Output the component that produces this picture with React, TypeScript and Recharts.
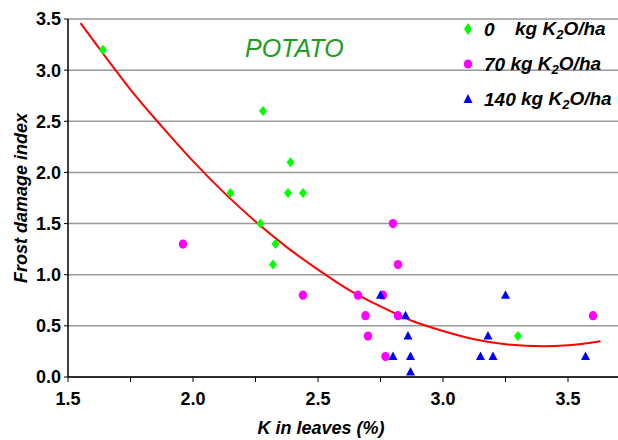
import React from 'react'
import {
  ComposedChart,
  Scatter,
  Line,
  XAxis,
  YAxis,
  CartesianGrid,
  Label,
} from 'recharts'

// K in leaves (%) vs frost damage index, per potash rate
const k0X = [1.64, 2.28, 2.39, 2.15, 2.38, 2.44, 2.27, 2.33, 2.32, 3.3]
const k0Y = [3.2, 2.6, 2.1, 1.8, 1.8, 1.8, 1.5, 1.3, 1.1, 0.4]

const k70X = [1.96, 2.44, 2.66, 2.76, 2.8, 2.82, 2.69, 2.82, 2.7, 2.77, 3.6]
const k70Y = [1.3, 0.8, 0.8, 0.8, 1.5, 1.1, 0.6, 0.6, 0.4, 0.2, 0.6]

const k140X = [2.75, 2.85, 2.86, 2.8, 2.87, 2.87, 3.18, 3.15, 3.2, 3.25, 3.57]
const k140Y = [0.8, 0.6, 0.4, 0.2, 0.2, 0.05, 0.4, 0.2, 0.2, 0.8, 0.2]

// trend line
const trendX = [1.55, 1.65, 1.75, 1.875, 2.0, 2.125, 2.25, 2.375, 2.5, 2.625, 2.75, 2.875, 3.0, 3.125, 3.25, 3.4, 3.5, 3.63]
const trendY = [3.46, 3.13, 2.81, 2.45, 2.11, 1.8, 1.52, 1.27, 1.05, 0.85, 0.69, 0.55, 0.45, 0.37, 0.32, 0.3, 0.31, 0.35]

const xTicks = [1.5, 1.75, 2.0, 2.25, 2.5, 2.75, 3.0, 3.25, 3.5]
const yTicks = [0, 0.5, 1.0, 1.5, 2.0, 2.5, 3.0, 3.5]

const legendRates = ['0', '70', '140']

const zip = (xs: number[], ys: number[]) => xs.map((x, i) => ({ x, y: ys[i] }))

const k0 = zip(k0X, k0Y)
const k70 = zip(k70X, k70Y)
const k140 = zip(k140X, k140Y)
const trend = zip(trendX, trendY)

const FONT = '"Liberation Sans", Arial, sans-serif'

const Diamond = (props: any) => {
  const { cx, cy } = props
  return (
    <polygon
      points={`${cx},${cy - 5} ${cx + 4},${cy} ${cx},${cy + 5} ${cx - 4},${cy}`}
      fill="#00ff00"
    />
  )
}
const Dot = (props: any) => {
  const { cx, cy } = props
  return <ellipse cx={cx} cy={cy} rx={4.2} ry={4.6} fill="#ff00ff" />
}
const Tri = (props: any) => {
  const { cx, cy } = props
  return (
    <polygon
      points={`${cx},${cy - 5} ${cx + 4.5},${cy + 3.5} ${cx - 4.5},${cy + 3.5}`}
      fill="#0000ff"
    />
  )
}

const markers = [
  <svg width="12" height="14" key="d"><polygon points="6,1 10,7 6,13 2,7" fill="#00ff00" /></svg>,
  <svg width="12" height="14" key="c"><ellipse cx="6" cy="7" rx="4.2" ry="4.6" fill="#ff00ff" /></svg>,
  <svg width="12" height="14" key="t"><polygon points="6,2 10.5,11 1.5,11" fill="#0000ff" /></svg>,
]

function App() {
  const axisLabel = {
    fill: '#000',
    fontWeight: 'bold',
    fontStyle: 'italic',
    fontSize: 18,
    fontFamily: FONT,
  }
  const tick = { fill: '#000', fontWeight: 'bold', fontSize: 18, fontFamily: FONT }
  return (
    <div style={{ position: 'absolute', left: 0, top: 0, width: 618, height: 440 }}>
      <ComposedChart
        width={618}
        height={440}
        margin={{ top: 19, right: 0, bottom: 0, left: 0 }}
      >
        <CartesianGrid vertical={false} stroke="#999999" strokeWidth={1.5} />
        <XAxis
          type="number"
          dataKey="x"
          domain={[1.5, 3.7]}
          ticks={xTicks}
          allowDataOverflow
          height={63}
          tickSize={5}
          tickMargin={10}
          tick={tick}
          tickFormatter={(v: number) => (Math.abs(v * 2 - Math.round(v * 2)) < 1e-6 ? v.toFixed(1) : '')}
          axisLine={{ stroke: '#000', strokeWidth: 1.5 }}
          tickLine={{ stroke: '#000' }}
        >
          <Label value="K in leaves (%)" position="insideBottom" offset={6} dx={-22} style={axisLabel} />
        </XAxis>
        <YAxis
          type="number"
          dataKey="y"
          domain={[0, 3.5]}
          ticks={yTicks}
          allowDataOverflow
          width={68}
          tickSize={4}
          tickMargin={3}
          tick={tick}
          tickFormatter={(v: number) => v.toFixed(1)}
          axisLine={{ stroke: '#000', strokeWidth: 1.5 }}
          tickLine={{ stroke: '#000' }}
        >
          <Label value="Frost damage index" angle={-90} position="insideLeft" offset={21} style={{ ...axisLabel, textAnchor: 'middle' }} />
        </YAxis>
        <Line
          data={trend}
          dataKey="y"
          type="monotone"
          stroke="#ff0000"
          strokeWidth={2}
          dot={false}
          isAnimationActive={false}
        />
        <Scatter data={k0} dataKey="y" shape={Diamond} isAnimationActive={false} />
        <Scatter data={k70} dataKey="y" shape={Dot} isAnimationActive={false} />
        <Scatter data={k140} dataKey="y" shape={Tri} isAnimationActive={false} />
      </ComposedChart>
      <div
        style={{
          position: 'absolute',
          left: 245,
          top: 34,
          color: '#239b23',
          fontFamily: FONT,
          fontStyle: 'italic',
          fontSize: 25,
        }}
      >
        POTATO
      </div>
      <div style={{ position: 'absolute', left: 462, top: 12, fontFamily: FONT }}>
        {legendRates.map((r, i) => (
          <div
            key={r}
            style={{
              display: 'flex',
              alignItems: 'center',
              height: 35,
              fontWeight: 'bold',
              fontStyle: 'italic',
              fontSize: 19,
              color: '#000',
              whiteSpace: 'pre',
            }}
          >
            <span style={{ width: 22, display: 'inline-block' }}>{markers[i]}</span>
            <span style={i === 0 ? { width: 31, display: 'inline-block' } : undefined}>
              {i === 0 ? r : r + ' '}
            </span>
            <span>
              kg K<sub style={{ fontSize: 13, verticalAlign: -4 }}>2</sub>O/ha
            </span>
          </div>
        ))}
      </div>
    </div>
  )
}

export default App
